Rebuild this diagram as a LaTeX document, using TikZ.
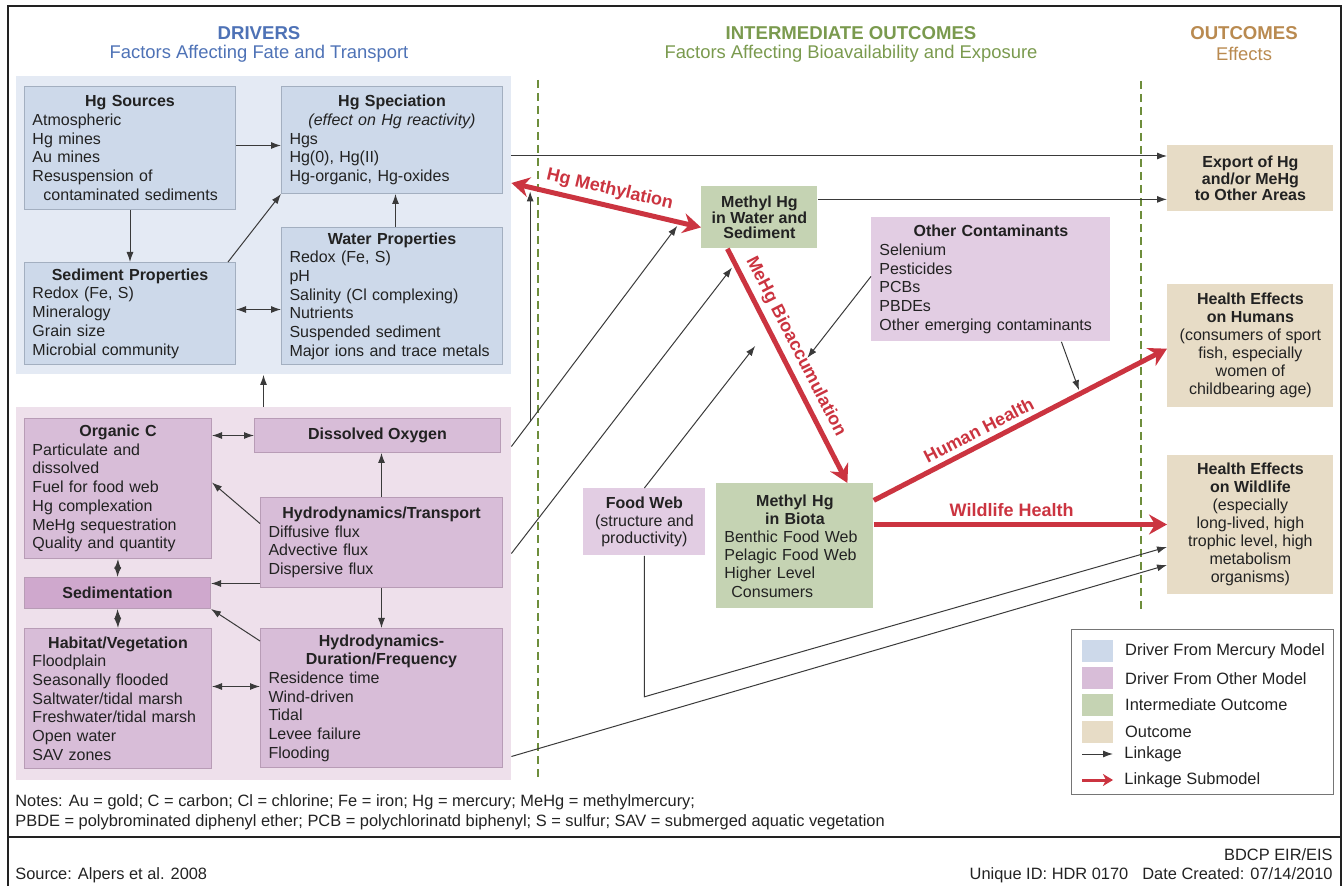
\documentclass[tikz,border=0pt]{standalone}
\usepackage{fontspec}
\setmainfont{Liberation Sans}
\usetikzlibrary{arrows.meta,positioning,fit,backgrounds,calc}
\definecolor{drvblue}{HTML}{4E72B6}
\definecolor{midgreen}{HTML}{7A9A4E}
\definecolor{outtan}{HTML}{B98A50}
\definecolor{bluepanel}{HTML}{E4EAF4}
\definecolor{bluebox}{HTML}{CDD9EA}
\definecolor{bluebrd}{HTML}{A3AFC0}
\definecolor{pinkpanel}{HTML}{EEE0EB}
\definecolor{pinkbox}{HTML}{D8BDD8}
\definecolor{pinkdark}{HTML}{CFA8CD}
\definecolor{pinkbrd}{HTML}{B89CB6}
\definecolor{pinklite}{HTML}{E2CDE3}
\definecolor{grnbox}{HTML}{C5D3B3}
\definecolor{tanbox}{HTML}{E7DCC6}
\definecolor{subred}{HTML}{CB3440}
\definecolor{dashgreen}{HTML}{6E8E3C}
\definecolor{linkgray}{HTML}{3A3A3A}
\definecolor{inkgray}{HTML}{222222}
\newcommand{\bxtitle}[1]{\makebox[\linewidth]{\bfseries #1}}

\begin{document}
\begin{tikzpicture}[x=0.5pt,y=-0.5pt,text=inkgray,
  >={Latex[length=5pt,width=3.5pt]},
  bbox/.style={draw=bluebrd,line width=0.5pt,fill=bluebox,anchor=north west,inner sep=0pt,inner xsep=4pt,align=left,font=\fontsize{8}{9.35}\selectfont},
  pbox/.style={bbox,draw=pinkbrd,fill=pinkbox},
  cbox/.style={fill=pinklite,anchor=north west,inner sep=0pt,inner xsep=4pt,align=left,font=\fontsize{8}{9.35}\selectfont},
  gbox/.style={fill=grnbox,anchor=north west,inner sep=0pt,inner xsep=4pt,align=center,font=\fontsize{8}{8}\selectfont},
  obox/.style={fill=tanbox,anchor=north west,inner sep=0pt,align=center,font=\fontsize{8}{9}\selectfont},
  lk/.style={->,draw=linkgray,line width=0.5pt},
  lk2/.style={<->,draw=linkgray,line width=0.5pt},
  lks/.style={-{Stealth[length=9pt,width=10pt,inset=3pt]},draw=subred,line width=2.5pt},
  lbl/.style={font=\fontsize{9}{9}\selectfont\bfseries,text=subred,sloped,above=1.5pt,inner sep=1pt},
  hdt/.style={font=\fontsize{9.3}{11}\selectfont\bfseries},
  hds/.style={font=\fontsize{9.2}{11}\selectfont},
  divider/.style={draw=dashgreen,line width=0.75pt,dash pattern=on 4pt off 2.5pt},
  swatch/.style={anchor=north west,minimum width=15.5pt,minimum height=11pt,inner sep=0pt},
  lgt/.style={font=\fontsize{8.2}{9}\selectfont,inner sep=0pt,anchor=west},
  foot/.style={font=\fontsize{8.2}{9}\selectfont,inner sep=0pt}]
  \useasboundingbox (0,0) rectangle (1343,886);
  \draw[draw=inkgray,line width=0.65pt] (8,6) rectangle (1341,892);
  \draw[draw=inkgray,line width=0.65pt] (8,837) -- (1341,837);
  % column headings
  \node[hdt,text=drvblue] (drvT) at (259,33) {DRIVERS};
  \node[hds,text=drvblue] (drvS) at (259,54) {Factors Affecting Fate and Transport};
  \node[hdt,text=midgreen] (midT) at (851,33) {INTERMEDIATE OUTCOMES};
  \node[hds,text=midgreen] (midS) at (851,54) {Factors Affecting Bioavailability and Exposure};
  \node[hdt,text=outtan] (outT) at (1244,33) {OUTCOMES};
  \node[hds,text=outtan] (outS) at (1244,54) {Effects};
  \draw[divider] (538,80) -- (538,780);
  \draw[divider] (1141,81) -- (1141,613);
  % drivers from the mercury model
  \node[bbox,minimum width=105.5pt,minimum height=61.5pt,text width=97.5pt] (src) at (24,86)
    {\bxtitle{Hg Sources}\\Atmospheric\\Hg mines\\Au mines\\Resuspension of\\\hspace*{5.5pt}contaminated sediments};
  \node[bbox,right=22.5pt of src.north east,anchor=north west,minimum width=110.5pt,minimum height=53.5pt,text width=102.5pt] (spec)
    {\bxtitle{Hg Speciation}\\\makebox[\linewidth]{\itshape (effect on Hg reactivity)}\\Hgs\\Hg(0), Hg(II)\\Hg-organic, Hg-oxides};
  \node[bbox,below=26pt of src,minimum width=105.5pt,minimum height=51pt,text width=97.5pt] (sed)
    {\bxtitle{Sediment Properties}\\Redox (Fe, S)\\Mineralogy\\Grain size\\Microbial community};
  \node[bbox,below=16.5pt of spec.south west,anchor=north west,minimum width=110.5pt,minimum height=68.5pt,text width=102.5pt] (wat)
    {\bxtitle{Water Properties}\\Redox (Fe, S)\\pH\\Salinity (Cl complexing)\\Nutrients\\Suspended sediment\\Major ions and trace metals};
  % drivers from other models
  \node[pbox,minimum width=93.5pt,minimum height=70pt,text width=85.5pt] (orgc) at (24,418)
    {\bxtitle{Organic C}\\Particulate and\\dissolved\\Fuel for food web\\Hg complexation\\MeHg sequestration\\Quality and quantity};
  \node[pbox,right=21pt of orgc.north east,anchor=north west,align=center,minimum width=123pt,minimum height=17pt] (dox)
    {\bfseries Dissolved Oxygen};
  \node[pbox,fill=pinkdark,below=9pt of orgc.south west,anchor=north west,align=center,minimum width=93pt,minimum height=15.5pt] (sedi)
    {\bfseries Sedimentation};
  \node[pbox,below=9.5pt of sedi.south west,anchor=north west,minimum width=93.5pt,minimum height=70pt,text width=85.5pt] (hab)
    {\bxtitle{Habitat/Vegetation}\\Floodplain\\Seasonally flooded\\Saltwater/tidal marsh\\Freshwater/tidal marsh\\Open water\\SAV zones};
  \node[pbox,right=24pt of hab.north east,anchor=north west,minimum width=121pt,minimum height=69.5pt,text width=113pt] (hdf)
    {\bxtitle{Hydrodynamics-}\\\bxtitle{Duration/Frequency}\\Residence time\\Wind-driven\\Tidal\\Levee failure\\Flooding};
  \node[pbox,above=20pt of hdf.north west,anchor=south west,minimum width=121pt,minimum height=45pt,text width=113pt] (hyt)
    {\bxtitle{Hydrodynamics/Transport}\\Diffusive flux\\Advective flux\\Dispersive flux};
  % intermediate outcomes
  \node[gbox,minimum width=58pt,minimum height=31pt,font=\fontsize{8}{7.8}\selectfont\bfseries] (mhw) at (701,186)
    {Methyl Hg\\in Water and\\Sediment};
  \node[cbox,minimum width=119.5pt,minimum height=62pt,text width=111.5pt] (othc) at (871,217)
    {\bxtitle{Other Contaminants}\\Selenium\\Pesticides\\PCBs\\PBDEs\\Other emerging contaminants};
  \node[cbox,align=center,inner xsep=0pt,minimum width=61pt,minimum height=33.5pt,font=\fontsize{8}{8.6}\selectfont] (fweb) at (583,488)
    {\textbf{Food Web}\\(structure and\\productivity)};
  \node[gbox,align=left,minimum width=78.5pt,minimum height=62.5pt,text width=70.5pt,font=\fontsize{8}{9.1}\selectfont] (mhb) at (716,483)
    {\bxtitle{Methyl Hg}\\\bxtitle{in Biota}\\Benthic Food Web\\Pelagic Food Web\\Higher Level\\\hspace*{3.5pt}Consumers};
  % outcomes
  \node[obox,minimum width=83pt,minimum height=33pt,font=\fontsize{8}{8.3}\selectfont\bfseries] (exp) at (1167,145)
    {Export of Hg\\and/or MeHg\\to Other Areas};
  \node[obox,below=36pt of exp,minimum width=83pt,minimum height=61.5pt] (hum)
    {\textbf{Health Effects}\\\textbf{on Humans}\\(consumers of sport\\fish, especially\\women of\\childbearing age)};
  \node[obox,below=23.5pt of hum,minimum width=83pt,minimum height=69.5pt] (wild)
    {\textbf{Health Effects}\\\textbf{on Wildlife}\\(especially\\long-lived, high\\trophic level, high\\metabolism\\organisms)};
  \begin{scope}[on background layer]
    \node[fit=(src)(spec)(sed)(wat),fill=bluepanel,inner xsep=4pt,inner ysep=4.75pt] (blu) {};
    \node[fit=(orgc)(dox)(sedi)(hab)(hdf)(hyt),fill=pinkpanel,inner xsep=4pt,inner ysep=5.25pt] (pnk) {};
  \end{scope}
  % linkages inside the driver panels
  \draw[lk]([yshift=1.25pt]src.east)--([yshift=1.25pt]src.east -| spec.west);
  \draw[lk](src.south)--(sed.north);
  \draw[lk]([xshift=-4pt]sed.north east)--(spec.south west);
  \draw[lk]([xshift=1.75pt]wat.north)--([xshift=1.75pt]spec.south);
  \draw[lk2]([yshift=2pt]sed.east)--([yshift=2pt]sed.east -| wat.west);
  \draw[lk](pnk.north)--(blu.south);
  \draw[lk2](dox.west)--(dox.west -| orgc.east);
  \draw[lk](hyt.north)--(hyt.north |- dox.south);
  \draw[lk]([yshift=9.5pt]hyt.west)--([yshift=3pt]orgc.east);
  \draw[lk]([yshift=-20.5pt]hyt.west)--([yshift=-20.5pt]hyt.west -| sedi.east);
  \draw[lk](hyt.south)--(hdf.north);
  \draw[lk]([yshift=-6.5pt]hdf.north west)--(sedi.south east);
  \draw[lk2](orgc.south)--(sedi.north);
  \draw[lk2](sedi.south)--(hab.north);
  \draw[lk2]([yshift=6pt]hab.east)--([yshift=6pt]hab.east -| hdf.west);
  % submodel linkages (red)
  \coordinate (mA) at ([yshift=21.25pt]blu.east);
  \coordinate (mB) at ([yshift=-5pt]mhw.west);
  \coordinate (bA) at ([xshift=-16pt]mhw.south);
  \coordinate (bB) at ([xshift=26.25pt]mhb.north);
  \coordinate (hA) at ([yshift=22.75pt]mhb.east);
  \coordinate (hB) at ([yshift=-1.5pt]hum.west);
  \draw[lks,{Stealth[length=9pt,width=10pt,inset=3pt]}-{Stealth[length=9pt,width=10pt,inset=3pt]}](mA)--node[lbl,pos=0.5]{Hg Methylation}(mB);
  \draw[lks](bA)--node[lbl,pos=0.45]{MeHg Bioaccumulation}(bB);
  \draw[lks](hA)--node[lbl,pos=0.38]{Human Health}(hB);
  \draw[lks](mhb.east |- wild.west)--node[lbl,pos=0.47]{Wildlife Health}(wild.west);
  % linkages into the red submodel arrows
  \coordinate (d1a) at ([yshift=73.5pt]pnk.east);
  \coordinate[yshift=-2pt] (d1b) at ($(mA)!0.875!(mB)$);
  \coordinate (vb) at ($(d1a)!0.113!(d1b)$);
  \coordinate[yshift=-2pt] (vt) at ($(mA)!0.099!(mB)$);
  \coordinate[xshift=-2.5pt] (d2b) at ($(bA)!0.08!(bB)$);
  \coordinate[xshift=-11pt] (d3b) at ($(bA)!0.415!(bB)$);
  \coordinate[xshift=12pt] (o1b) at ($(bA)!0.466!(bB)$);
  \coordinate[yshift=2pt] (o2b) at ($(hA)!0.70!(hB)$);
  \draw[lk](d1a)--(d1b);
  \draw[lk](vb)--(vb |- vt);
  \draw[lk]([yshift=20pt]pnk.east)--(d2b);
  \draw[lk](fweb.north)--(d3b);
  \draw[lk]([yshift=1.5pt]othc.west)--(o1b);
  \draw[lk]([xshift=35.25pt]othc.south)--(o2b);
  % linkages to the outcomes
  \draw[lk]([yshift=34.75pt]blu.east)--([yshift=34.75pt]blu.east -| exp.west);
  \draw[lk]([yshift=9pt]mhw.east)--([yshift=9pt]mhw.east -| exp.west);
  \draw[lk](fweb.south)--++(0,141)--([yshift=-11.25pt]wild.west);
  \draw[lk]([yshift=-81.5pt]pnk.east)--([yshift=-20.25pt]wild.west);
  % legend
  \node[draw=linkgray!70,line width=0.6pt,anchor=north west,minimum width=131pt,minimum height=82.5pt,inner sep=0pt] (lgd) at (1071,629) {};
  \node[swatch,fill=bluebox] (sw1) at (1082,640) {};
  \node[swatch,fill=pinkbox,below=2pt of sw1] (sw2) {};
  \node[swatch,fill=grnbox,below=2pt of sw2] (sw3) {};
  \node[swatch,fill=tanbox,below=2pt of sw3] (sw4) {};
  \node[lgt,right=5.5pt of sw1] (lt1) {Driver From Mercury Model};
  \node[lgt,right=5.5pt of sw2] (lt2) {Driver From Other Model};
  \node[lgt,right=5.5pt of sw3] (lt3) {Intermediate Outcome};
  \node[lgt,right=5.5pt of sw4] (lt4) {Outcome};
  \coordinate (lk1) at (1082,754);
  \coordinate (lk2) at (1113,754);
  \coordinate (ls1) at (1082,780);
  \coordinate (ls2) at (1113,780);
  \draw[lk](lk1)--(lk2);
  \draw[lks,-{Stealth[length=5pt,width=6pt,inset=1.5pt]},line width=1.5pt](ls1)--(ls2);
  \node[lgt,right=5.5pt of lk2] (lt5) {Linkage};
  \node[lgt,right=5.5pt of ls2] (lt6) {Linkage Submodel};
  % notes and footer
  \node[foot,anchor=west] (nt1) at (15,802) {Notes: Au = gold; C = carbon; Cl = chlorine; Fe = iron; Hg = mercury; MeHg = methylmercury;};
  \node[foot,anchor=west] (nt2) at (15,822) {PBDE = polybrominated diphenyl ether; PCB = polychlorinatd biphenyl; S = sulfur; SAV = submerged aquatic vegetation};
  \node[foot,anchor=west] (srcn) at (15,875) {Source: Alpers et al. 2008};
  \node[foot,anchor=east] (bdcp) at (1333,855) {BDCP EIR/EIS};
  \node[foot,anchor=east] (uid) at (1333,875) {Unique ID: HDR 0170\hspace{7pt}Date Created: 07/14/2010};
\end{tikzpicture}
\end{document}
